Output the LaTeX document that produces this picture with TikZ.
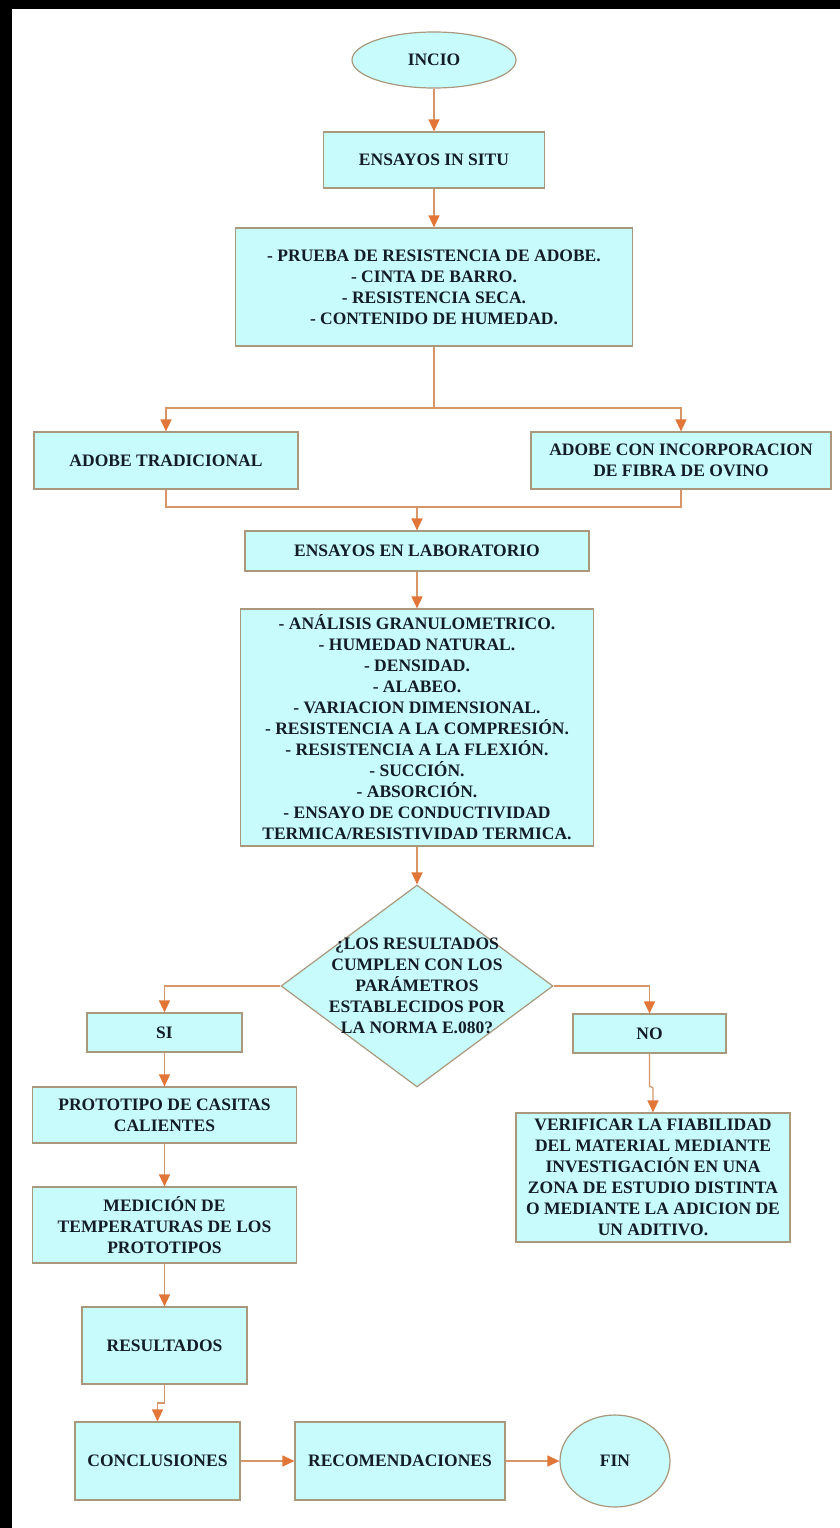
\documentclass[tikz,border=0pt]{standalone}
\usepackage{fontspec}
\setmainfont{Liberation Serif}
\usetikzlibrary{shapes.geometric,arrows.meta}
\definecolor{boxfill}{RGB}{200,252,252}
\definecolor{boxdraw}{RGB}{170,152,124}
\definecolor{linec}{RGB}{214,150,104}
\definecolor{tipc}{RGB}{226,118,56}
\definecolor{txtc}{RGB}{20,28,40}
\tikzset{
  base/.style={fill=boxfill, draw=boxdraw, line width=1.2pt, text=txtc, align=center,
    font=\bfseries\fontsize{17.5}{21}\selectfont, inner sep=0pt},
  stepbox/.style={base, rectangle},
  oval/.style={base, ellipse},
  decision/.style={base, diamond},
  plain/.style={text=txtc, align=center, font=\bfseries\fontsize{17.5}{21}\selectfont, inner sep=0pt},
  conn/.style={draw=linec, line width=1.3pt},
  arr/.style={conn, -{Triangle[width=11pt,length=12pt,color=tipc]}},
}
\begin{document}
\begin{tikzpicture}[x=1pt,y=-1pt]
\useasboundingbox (0,0) rectangle (840,1528);
\fill[white] (0,0) rectangle (840,1528);
\fill[black] (0,0) rectangle (12,1528);
\fill[black] (0,0) rectangle (840,9);

\node[oval, minimum width=164pt, minimum height=56pt] (inicio) at (434,60) {INCIO};
\node[stepbox, minimum width=221pt, minimum height=56pt] (situ) at (434,160) {ENSAYOS IN SITU};
\node[stepbox, minimum width=397pt, minimum height=118pt] (prueba) at (434,287)
  {- PRUEBA DE RESISTENCIA DE ADOBE.\\- CINTA DE BARRO.\\- RESISTENCIA SECA.\\- CONTENIDO DE HUMEDAD.};
\node[stepbox, minimum width=264pt, minimum height=57pt] (trad) at (166,460.5) {ADOBE TRADICIONAL};
\node[stepbox, minimum width=300pt, minimum height=57pt] (fibra) at (681,460.5) {ADOBE CON INCORPORACION\\DE FIBRA DE OVINO};
\node[stepbox, minimum width=344pt, minimum height=40pt] (lab) at (417,551) {ENSAYOS EN LABORATORIO};
\node[stepbox, minimum width=353pt, minimum height=237pt] (lista) at (417,727.5)
  {- ANÁLISIS GRANULOMETRICO.\\- HUMEDAD NATURAL.\\- DENSIDAD.\\- ALABEO.\\- VARIACION DIMENSIONAL.\\- RESISTENCIA A LA COMPRESIÓN.\\- RESISTENCIA A LA FLEXIÓN.\\- SUCCIÓN.\\- ABSORCIÓN.\\- ENSAYO DE CONDUCTIVIDAD\\TERMICA/RESISTIVIDAD TERMICA.};
\node[decision, minimum width=272pt, minimum height=202pt] (dec) at (417,986) {};
\node[plain] (dectxt) at (417,986) {¿LOS RESULTADOS\\CUMPLEN CON LOS\\PARÁMETROS\\ESTABLECIDOS POR\\LA NORMA E.080?};
\node[stepbox, minimum width=155pt, minimum height=39pt] (si) at (164.5,1032.5) {SI};
\node[stepbox, minimum width=153pt, minimum height=39pt] (no) at (649.5,1033.5) {NO};
\node[stepbox, minimum width=264pt, minimum height=56pt] (proto) at (164.5,1115) {PROTOTIPO DE CASITAS\\CALIENTES};
\node[stepbox, minimum width=274pt, minimum height=129pt] (verif) at (653,1177.5)
  {VERIFICAR LA FIABILIDAD\\DEL MATERIAL MEDIANTE\\INVESTIGACIÓN EN UNA\\ZONA DE ESTUDIO DISTINTA\\O MEDIANTE LA ADICION DE\\UN ADITIVO.};
\node[stepbox, minimum width=264pt, minimum height=76pt] (medicion) at (164.5,1225) {MEDICIÓN DE\\TEMPERATURAS DE LOS\\PROTOTIPOS};
\node[stepbox, minimum width=165pt, minimum height=77pt] (result) at (164.5,1345.5) {RESULTADOS};
\node[stepbox, minimum width=165pt, minimum height=78pt] (concl) at (157.5,1461) {CONCLUSIONES};
\node[stepbox, minimum width=210pt, minimum height=78pt] (recom) at (400,1461) {RECOMENDACIONES};
\node[oval, minimum width=110pt, minimum height=92pt] (fin) at (615,1461) {FIN};

\coordinate (split) at (434,408);
\coordinate (merge) at (417,507);
\coordinate (kinkA) at (649.5,1086);
\coordinate (kinkA2) at (653,1088);
\coordinate (kinkB) at (164.5,1403);

\draw[arr] (inicio.south) -- (situ.north);
\draw[arr] (situ.south) -- (prueba.north);
\draw[conn] (prueba.south) -- (split);
\draw[arr] (split) -| (trad.north);
\draw[arr] (split) -| (fibra.north);
\draw[conn] (trad.south) |- (merge);
\draw[conn] (fibra.south) |- (merge);
\draw[arr] (merge) -- (lab.north);
\draw[arr] (lab.south) -- (lista.north);
\draw[arr] (lista.south) -- (dec.north);
\draw[arr] (dec.west) -| (si.north);
\draw[arr] (dec.east) -| (no.north);
\draw[arr] (si.south) -- (proto.north);
\draw[arr] (proto.south) -- (medicion.north);
\draw[arr] (medicion.south) -- (result.north);
\draw[arr] (no.south) -- (kinkA) -- (kinkA2) -- (verif.north);
\draw[arr] (result.south) -- (kinkB) -| (concl.north);
\draw[arr] (concl.east) -- (recom.west);
\draw[arr] (recom.east) -- (fin.west);
\end{tikzpicture}
\end{document}
